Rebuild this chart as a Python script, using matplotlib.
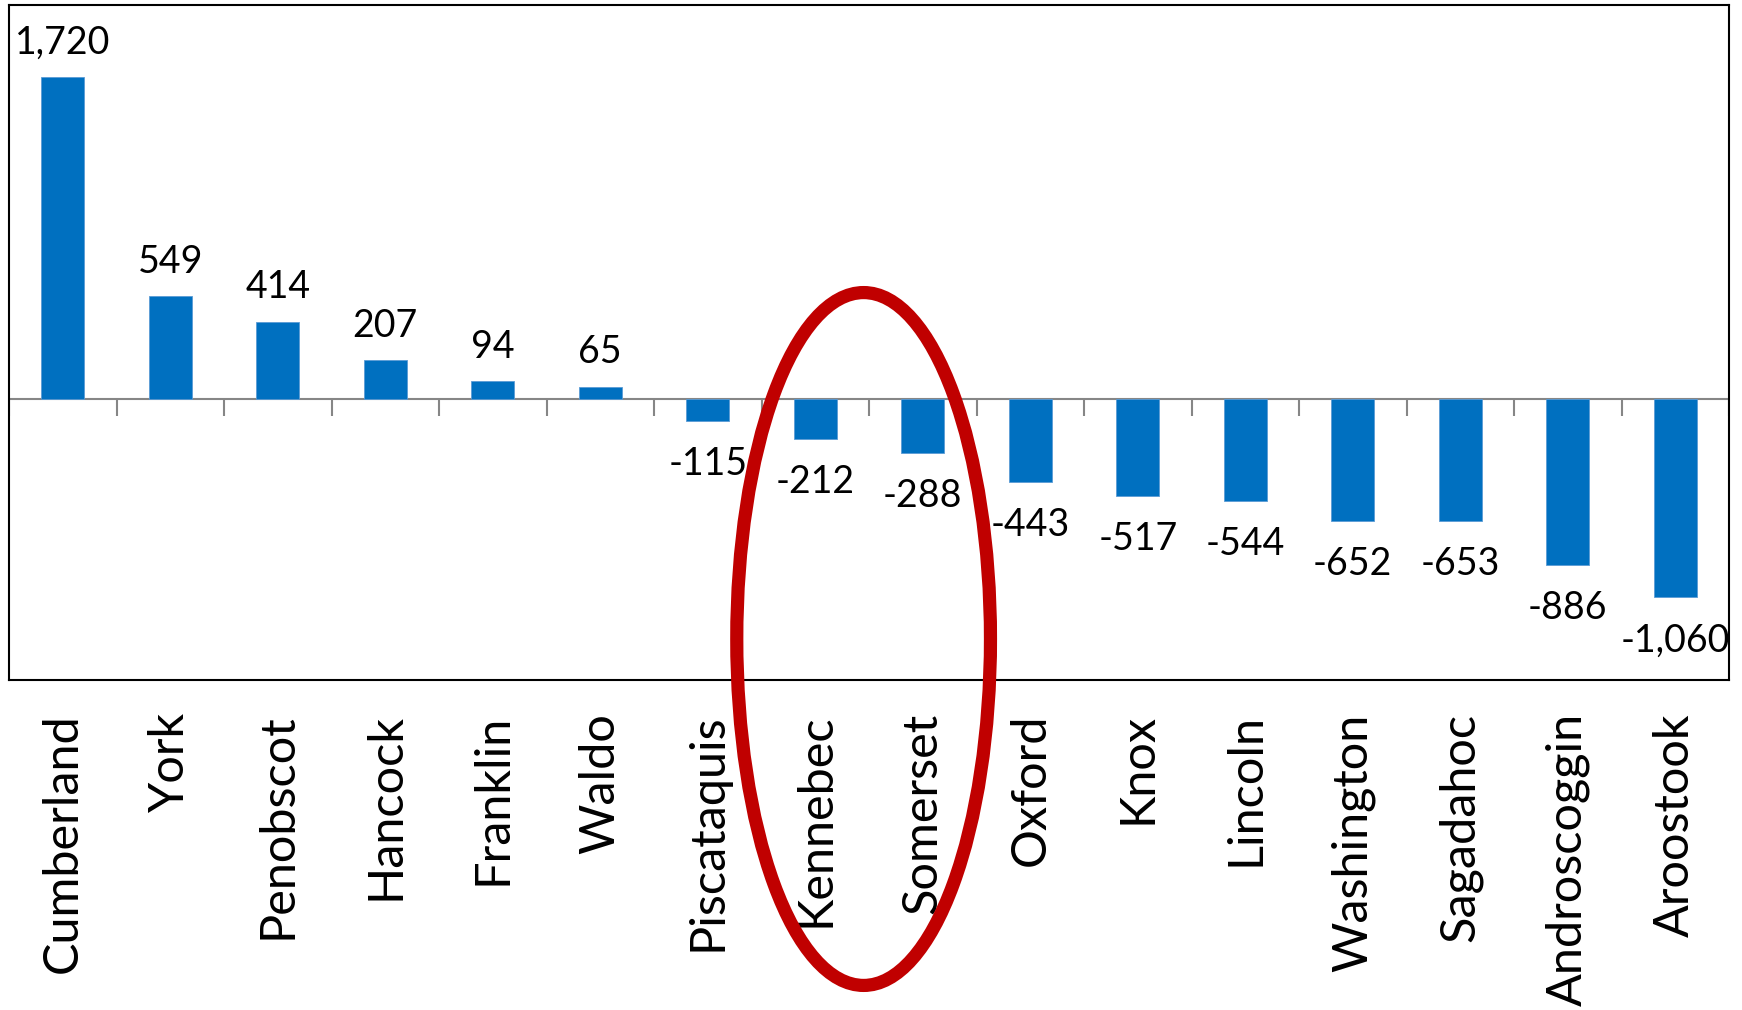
"""Maine county change bar chart with a highlight ellipse round Kennebec/Somerset."""

import matplotlib
matplotlib.use("Agg")
import matplotlib.pyplot as plt
import matplotlib.transforms as mtransforms
from matplotlib.lines import TICKDOWN
from matplotlib.patches import Ellipse

plt.rcParams["font.family"] = ["Lato", "DejaVu Sans"]

COUNTIES = [
    "Cumberland", "York", "Penobscot", "Hancock", "Franklin", "Waldo",
    "Piscataquis", "Kennebec", "Somerset", "Oxford", "Knox", "Lincoln",
    "Washington", "Sagadahoc", "Androscoggin", "Aroostook",
]
CHANGE = [1720, 549, 414, 207, 94, 65, -115, -212, -288, -443, -517, -544,
          -652, -653, -886, -1060]
HIGHLIGHT = ["Kennebec", "Somerset"]

BAR_COLOR = "#0070C0"
AXIS_GRAY = "#868686"
RING_RED = "#C00000"


def main() -> None:
    fig = plt.figure(figsize=(17.42, 10.10), dpi=100)
    ax = fig.add_axes([9 / 1742, 1 - 680 / 1010, 1720 / 1742, 675 / 1010])

    x = list(range(len(COUNTIES)))
    ax.bar(x, CHANGE, width=0.4, color=BAR_COLOR, edgecolor="#5B9BD5",
           linewidth=0.6, zorder=3)

    ax.set_xlim(-0.5, len(COUNTIES) - 0.5)
    ax.set_ylim(-1501, 2105)

    # zero line with category-boundary ticks hanging below it
    ax.axhline(0, color=AXIS_GRAY, linewidth=1.5, zorder=2)
    bounds = [i - 0.5 for i in range(len(COUNTIES) + 1)]
    ax.plot(bounds, [0] * len(bounds), linestyle="none", marker=TICKDOWN,
            markersize=12, markeredgewidth=1.5, color=AXIS_GRAY, zorder=2)

    for xi, v in zip(x, CHANGE):
        if v >= 0:
            ax.annotate(f"{v:,}", (xi, v), xytext=(0, 17),
                        textcoords="offset points", ha="center",
                        va="baseline", fontsize=27)
        else:
            ax.annotate(f"{v:,}", (xi, v), xytext=(0, -18),
                        textcoords="offset points", ha="center",
                        va="top", fontsize=27)

    # category labels below the plot frame
    lab_trans = mtransforms.blended_transform_factory(ax.transData, ax.transAxes)
    for xi, name in zip(x, COUNTIES):
        ax.annotate(name, (xi, 0), xycoords=lab_trans, xytext=(0, -24),
                    textcoords="offset points", rotation=90, ha="center",
                    va="top", fontsize=35, annotation_clip=False)

    ax.set_xticks([])
    ax.set_yticks([])
    for sp in ax.spines.values():
        sp.set_color("black")
        sp.set_linewidth(1.5)

    # red ring round the highlighted pair
    i0 = COUNTIES.index(HIGHLIGHT[0])
    i1 = COUNTIES.index(HIGHLIGHT[1])
    ring_trans = mtransforms.blended_transform_factory(ax.transData, fig.transFigure)
    ring = Ellipse(((i0 + i1) / 2 - 0.05, 1 - 639 / 1010), width=2.36,
                   height=0.686, transform=ring_trans, fill=False,
                   edgecolor=RING_RED, linewidth=9.5, clip_on=False, zorder=5)
    ax.add_patch(ring)

    fig.savefig("out.png", dpi=100, facecolor="white")
    plt.close(fig)


if __name__ == "__main__":
    main()
